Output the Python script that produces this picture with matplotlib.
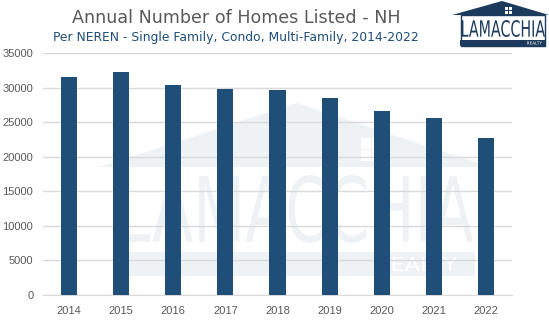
"""Annual number of homes listed in NH, 2014-2022 (bar chart with Lamacchia branding)."""

import matplotlib

matplotlib.use("Agg")
import matplotlib.pyplot as plt
from matplotlib.patches import Polygon, Rectangle, PathPatch
from matplotlib.textpath import TextPath
from matplotlib.font_manager import FontProperties
from matplotlib.transforms import Affine2D

years = ["2014", "2015", "2016", "2017", "2018", "2019", "2020", "2021", "2022"]
listings = [31600, 32200, 30300, 29850, 29700, 28550, 26650, 25600, 22750]
y_ticks = [0, 5000, 10000, 15000, 20000, 25000, 30000, 35000]

title = "Annual Number of Homes Listed - NH"
subtitle = "Per NEREN - Single Family, Condo, Multi-Family, 2014-2022"

BAR = "#1f4e79"
NAVY = "#1b3a5c"
GREY = "#595959"
W, H = 549, 334


def fitted_text(ax, s, x0, y0, x1, y1, color, weight="normal", zorder=3):
    """Draw text as a path stretched to fill the pixel box (x0, y0)-(x1, y1)."""
    tp = TextPath((0, 0), s, size=10, prop=FontProperties(family="DejaVu Sans", weight=weight))
    ext = tp.get_extents()
    tr = (Affine2D().translate(-ext.x0, -ext.y0)
          .scale((x1 - x0) / ext.width, -(y1 - y0) / ext.height)
          .translate(x0, y1))
    ax.add_patch(PathPatch(tr.transform_path(tp), facecolor=color, edgecolor="none", zorder=zorder))


fig = plt.figure(figsize=(W / 100, H / 100), dpi=100)

# faint watermark behind the plot
wm = fig.add_axes([0, 0, 1, 1], zorder=0)
wm.set_xlim(0, W)
wm.set_ylim(H, 0)
wm.axis("off")
wm_col = "#eff2f5"
wm.add_patch(Polygon([[100, 167], [297, 103], [490, 167]], closed=True, facecolor=wm_col, edgecolor="none"))
for wx, wy in [(361, 138), (372, 138), (361, 150), (372, 150)]:
    wm.add_patch(Rectangle((wx, wy), 9.5, 10.5, facecolor="white", edgecolor="none", zorder=2))
fitted_text(wm, "LAMACCHIA", 123, 175, 473, 243, wm_col)
wm.add_patch(Rectangle((116, 252), 359, 24, facecolor=wm_col, edgecolor="none"))
fitted_text(wm, "REALTY", 377, 257, 457, 271, "white")

ax = fig.add_axes([43 / W, 1 - 295 / H, (512 - 43) / W, (295 - 53) / H], zorder=1)
ax.patch.set_alpha(0)
x = range(len(years))
ax.bar(x, listings, width=0.31, color=BAR, zorder=3)
ax.set_xlim(-0.5, len(years) - 0.5)
ax.set_ylim(0, 35000)
ax.set_yticks(y_ticks)
ax.set_yticklabels([str(v) for v in y_ticks])
ax.set_xticks(list(x))
ax.set_xticklabels(years)
ax.grid(axis="y", color="#d9d9d9", lw=1, zorder=0)
ax.set_axisbelow(True)
for side in ["top", "right", "left"]:
    ax.spines[side].set_visible(False)
ax.spines["bottom"].set_color("#d9d9d9")
ax.tick_params(axis="both", length=0, labelsize=8, labelcolor=GREY)
ax.tick_params(axis="y", pad=7)
ax.tick_params(axis="x", pad=8)
for lab in ax.get_xticklabels() + ax.get_yticklabels():
    lab.set_family("Liberation Sans")

fig.text(236 / W, 1 - 18 / H, title, ha="center", va="center", fontsize=12.6, color=GREY)
fig.text(236 / W, 1 - 38 / H, subtitle, ha="center", va="center", fontsize=8.9, color=BAR)

# logo in the top right corner
lg = fig.add_axes([0, 0, 1, 1], zorder=2)
lg.set_xlim(0, W)
lg.set_ylim(H, 0)
lg.axis("off")
lg.add_patch(Polygon([[452, 15], [502, 1], [549, 15]], closed=True, facecolor=NAVY, edgecolor="none"))
for lx, ly in [(505, 7), (509, 7), (505, 10.5), (509, 10.5)]:
    lg.add_patch(Rectangle((lx, ly), 3, 3, facecolor="white", edgecolor="none", zorder=4))
lg.add_patch(Rectangle((460.5, 15), 84, 31, facecolor="white", edgecolor=NAVY, lw=1, zorder=2))
fitted_text(lg, "LAMACCHIA", 462, 20, 545, 37, NAVY)
lg.add_patch(Rectangle((460, 40), 85, 6, facecolor=NAVY, edgecolor="none", zorder=3))
fitted_text(lg, "REALTY", 527, 41.5, 542, 44.5, "white", zorder=4)

fig.savefig("out.png", dpi=100)
